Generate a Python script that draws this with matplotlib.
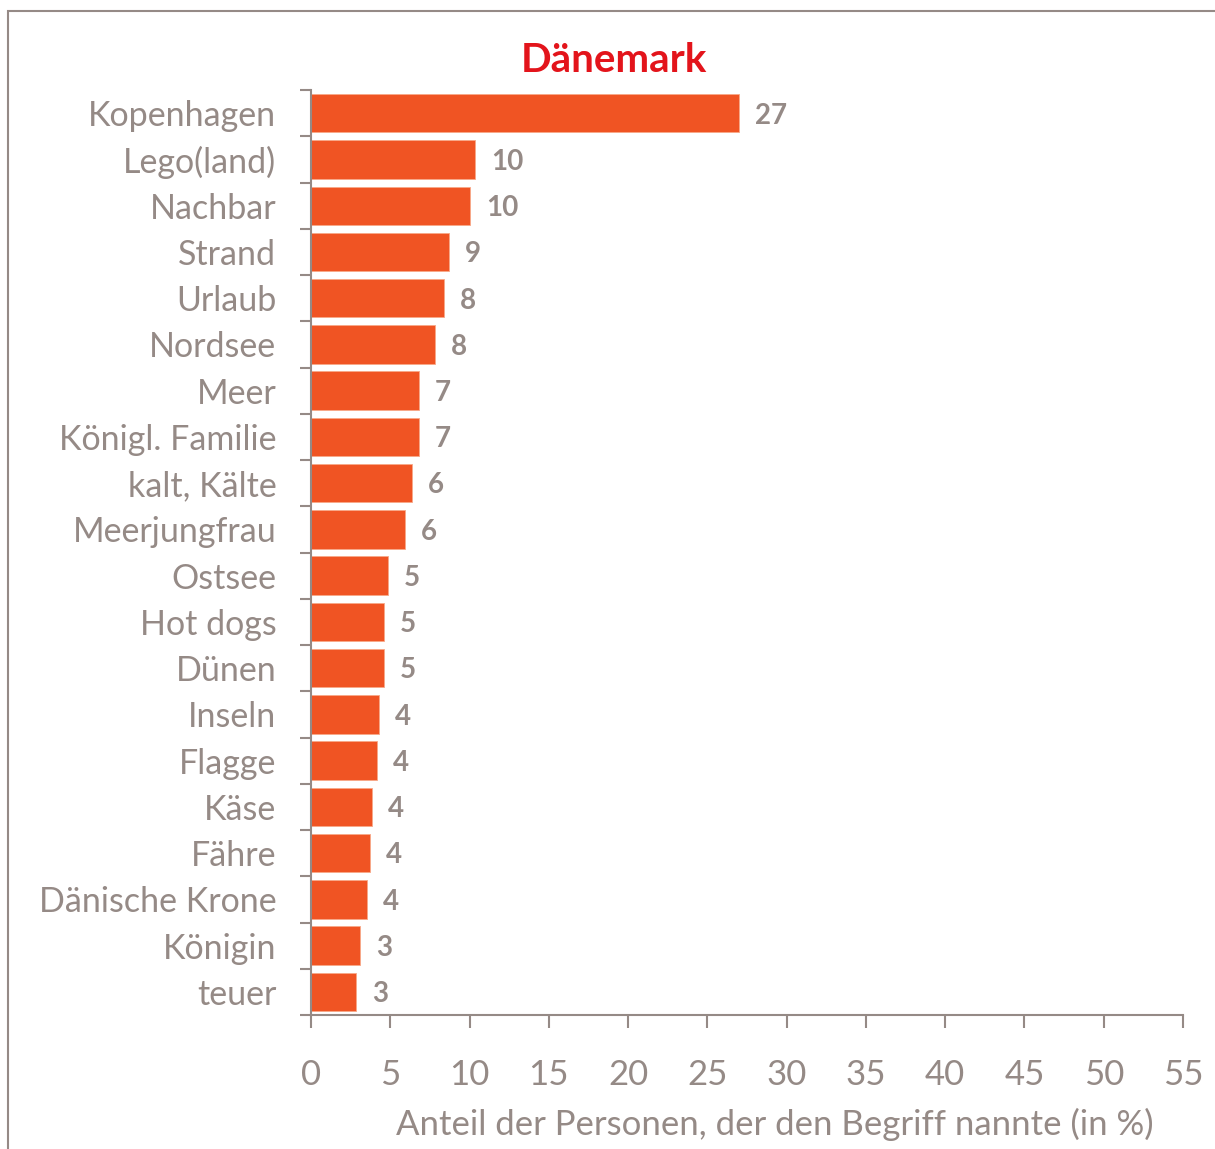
import matplotlib.pyplot as plt
import matplotlib.patches as mpatches
import numpy as np

plt.rcParams['font.family'] = ['Lato', 'DejaVu Sans']

BAR = "#F05423"
GRAY = "#958A86"
RED = "#E3141B"

categories = ["Kopenhagen", "Lego(land)", "Nachbar", "Strand", "Urlaub", "Nordsee",
              "Meer", "Königl. Familie", "kalt, Kälte", "Meerjungfrau", "Ostsee",
              "Hot dogs", "Dünen", "Inseln", "Flagge", "Käse", "Fähre",
              "Dänische Krone", "Königin", "teuer"]
values = [27.0, 10.34, 10.03, 8.70, 8.39, 7.82, 6.81, 6.81, 6.37, 5.93, 4.86,
          4.60, 4.60, 4.29, 4.16, 3.85, 3.72, 3.53, 3.09, 2.84]
xticks = [0, 5, 10, 15, 20, 25, 30, 35, 40, 45, 50, 55]

fig = plt.figure(figsize=(12.15, 11.49), dpi=100)
ax = fig.add_axes([0.256, 0.1166, 0.7177, 0.805])

y = np.arange(len(categories))
ax.barh(y, values, height=0.83, color=BAR, edgecolor="#F8A888", linewidth=0.6, zorder=2)

for yi, v in zip(y, values):
    ax.text(v + 1.0, yi + 0.05, f"{v:.0f}", va="center", ha="left", fontsize=20,
            fontweight="bold", color=GRAY, zorder=3,
            bbox=dict(facecolor="white", edgecolor="none", pad=2))

ax.set_xlim(0, 55)
ax.set_ylim(len(categories) - 0.5, -0.5)
ax.set_xticks(xticks)
ax.set_xticklabels([str(t) for t in xticks])
ax.set_yticks(y)
ax.set_yticklabels(categories)
ax.set_yticks(np.arange(len(categories) + 1) - 0.5, minor=True)

ax.tick_params(axis="y", which="major", length=0, pad=25, labelsize=24.5, labelcolor=GRAY)
ax.tick_params(axis="y", which="minor", length=8, width=1.5, color=GRAY)
ax.tick_params(axis="x", which="major", length=9, width=1.5, color=GRAY,
               pad=23, labelsize=25, labelcolor=GRAY)

for s in ["top", "right"]:
    ax.spines[s].set_visible(False)
for s in ["left", "bottom"]:
    ax.spines[s].set_color(GRAY)
    ax.spines[s].set_linewidth(1.5)

ax.set_xlabel("Anteil der Personen, der den Begriff nannte (in %)", fontsize=25,
              color=GRAY, labelpad=12, x=0.532, ha="center")

fig.text(0.505, 0.947, "Dänemark", ha="center", va="center", fontsize=29,
         fontweight="bold", color=RED)

frame = mpatches.Rectangle((8 / 1215, -0.1), 1.2, 1 - 11 / 1149 + 0.1,
                           transform=fig.transFigure, fill=False,
                           edgecolor=GRAY, linewidth=1.5)
fig.patches.append(frame)

fig.savefig("out.png", dpi=100)
